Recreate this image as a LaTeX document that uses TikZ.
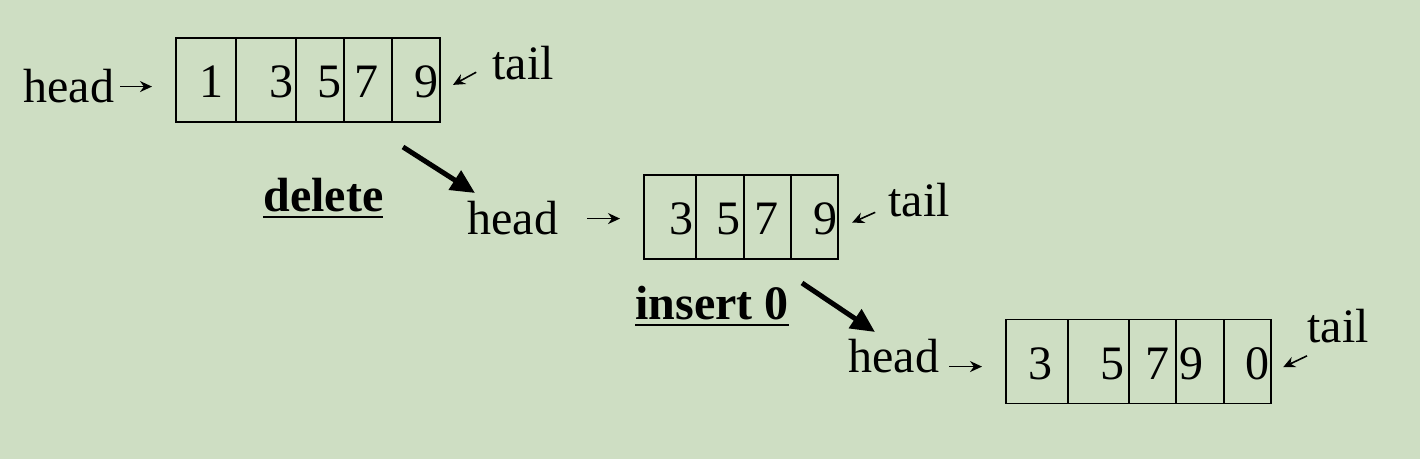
\documentclass[tikz,border=0pt]{standalone}
\usepackage{fontspec}
\setmainfont{Liberation Serif}
\usetikzlibrary{positioning,arrows.meta}
\definecolor{sheet}{RGB}{206,222,195}
\newcommand{\opname}[1]{\vtop{\hbox{\textbf{#1}}\kern1.9pt\hrule height 1.1pt}}

\begin{document}
\begin{tikzpicture}[x=0.5pt,y=-0.5pt,
    every node/.style={font=\fontsize{24}{28}\selectfont, inner sep=0pt},
    cell/.style={draw, line width=0.7pt, minimum height=42pt, outer sep=0pt},
    num/.style={anchor=base},
    word/.style={anchor=base west},
    ptr/.style={-{Stealth[length=6pt,width=5.5pt]}, line width=0.8pt},
    move/.style={-{Triangle[length=12pt,width=11pt]}, line width=2.5pt}]
    \fill[sheet] (0,0) rectangle (1420,459);

    % queue before delete
    \node[word] (h1) at (23,103) {head};
    \node[cell, minimum width=30pt, anchor=west] (c11) at (176,80) {};
    \node[cell, minimum width=30pt] (c12) [right=0pt of c11] {};
    \node[cell, minimum width=24pt] (c13) [right=0pt of c12] {};
    \node[cell, minimum width=24pt] (c14) [right=0pt of c13] {};
    \node[cell, minimum width=24pt] (c15) [right=0pt of c14] {};
    \node[num] (n11) at (211,98) {1};
    \node[num] (n12) at (281,98) {3};
    \node[num] (n13) at (329,98) {5};
    \node[num] (n14) at (366,98) {7};
    \node[num] (n15) at (426,98) {9};
    \node[word] (t1) at (492,80) {tail};

    \draw[ptr, shorten <=3pt, shorten >=12pt] (h1.east) -- (h1.east -| c11.west);
    \draw[ptr, shorten <=9pt, shorten >=7.4pt] (t1.west) -- ([yshift=-6pt]c15.east);

    \node[word] (del) at (263,212) {\opname{delete}};
    \coordinate (d0) at (403,147);
    \coordinate (d1) at (475,193);
    \draw[move] (d0) -- (d1);

    % queue after delete
    \node[word] (h2) at (467,235) {head};
    \node[cell, minimum width=26pt, anchor=west] (c21) at (644,217) {};
    \node[cell, minimum width=24pt] (c22) [right=0pt of c21] {};
    \node[cell, minimum width=23.5pt] (c23) [right=0pt of c22] {};
    \node[cell, minimum width=23.5pt] (c24) [right=0pt of c23] {};
    \node[num] (n21) at (681,235) {3};
    \node[num] (n22) at (728,235) {5};
    \node[num] (n23) at (766,235) {7};
    \node[num] (n24) at (825,235) {9};
    \node[word] (t2) at (888,217) {tail};

    \draw[ptr, shorten <=14.5pt, shorten >=12pt] (h2.east) -- (h2.east -| c21.west);
    \draw[ptr, shorten <=7pt, shorten >=7.7pt] ([yshift=-3pt]t2.west) -- ([yshift=-6pt]c24.east);

    \node[word] (ins) at (635,320) {\opname{insert 0}};
    \coordinate (i0) at (802,283);
    \coordinate (i1) at (875,332);
    \draw[move] (i0) -- (i1);

    % queue after insert 0
    \node[word] (h3) at (848,373) {head};
    \node[cell, minimum width=31pt, anchor=west] (c31) at (1006,361.5) {};
    \node[cell, minimum width=30.5pt] (c32) [right=0pt of c31] {};
    \node[cell, minimum width=23.5pt] (c33) [right=0pt of c32] {};
    \node[cell, minimum width=24pt] (c34) [right=0pt of c33] {};
    \node[cell, minimum width=23.5pt] (c35) [right=0pt of c34] {};
    \node[num] (n31) at (1040,380) {3};
    \node[num] (n32) at (1112,380) {5};
    \node[num] (n33) at (1157,380) {7};
    \node[num] (n34) at (1191,380) {9};
    \node[num] (n35) at (1257,380) {0};
    \node[word] (t3) at (1307,343) {tail};

    \draw[ptr, shorten <=5pt, shorten >=12pt] ([yshift=-5pt]h3.east) -- ([yshift=-5pt]h3.east -| c31.west);
    \draw[ptr, shorten >=6.7pt] ([yshift=-6pt]t3.south west) -- ([yshift=-5.75pt]c35.east);
\end{tikzpicture}
\end{document}
